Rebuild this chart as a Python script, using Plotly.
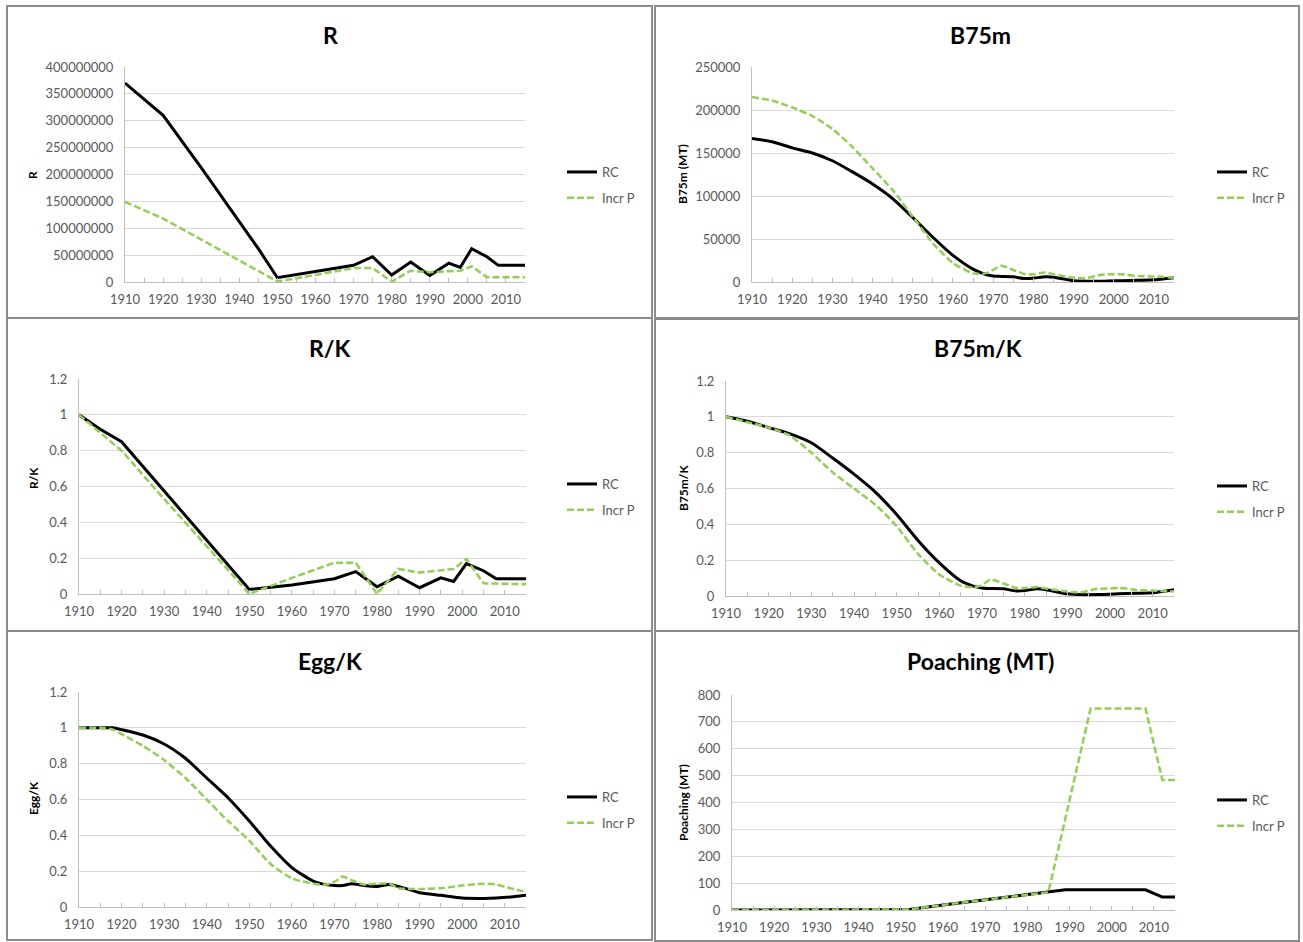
import plotly.graph_objects as go

W, H = 1303, 942


def px(x):
    return x / W


def py(y):
    return 1 - y / H


BLACK = "#000000"
GREEN = "#92D050"
GREY_TXT = "#595959"
FONT = "Lato"

# ---------------- data ----------------
# R
r_years = [1910, 1915, 1920, 1930, 1940, 1945, 1950, 1960, 1970, 1975, 1980, 1985,
           1990, 1995, 1998, 2001, 2005, 2008, 2015]
r_rc = [370e6, 340e6, 310e6, 213e6, 112e6, 62e6, 8e6, 19e6, 31e6, 47e6, 13e6, 37e6,
        12e6, 35e6, 27e6, 62e6, 47e6, 31e6, 31e6]
r_incr = [149e6, 133e6, 118e6, 79e6, 40e6, 20e6, 1e6, 13e6, 26e6, 26e6, 0.5e6, 21e6,
          18e6, 20e6, 21e6, 29e6, 9e6, 9e6, 9e6]

# R/K
rk_rc = [1.0, 0.92, 0.85, 0.575, 0.30, 0.165, 0.025, 0.05, 0.085, 0.125, 0.04, 0.10,
         0.035, 0.09, 0.07, 0.17, 0.13, 0.085, 0.085]
rk_incr = [1.0, 0.90, 0.80, 0.53, 0.27, 0.135, 0.0, 0.09, 0.175, 0.175, 0.0, 0.14,
           0.12, 0.135, 0.14, 0.195, 0.06, 0.058, 0.055]

# B75m and B75m/K
b_years = [1910, 1915, 1920, 1925, 1930, 1935, 1940, 1945, 1950, 1955, 1960, 1965, 1968,
           1970, 1972, 1975, 1978, 1980, 1983, 1985, 1990, 1993, 1997, 2000, 2002, 2006,
           2010, 2015]
b_rc = [167000, 163000, 156000, 150000, 141000, 128000, 114000, 97000, 75000, 52000,
        31000, 15000, 9000, 7000, 6500, 6000, 4000, 4500, 6000, 5500, 1500, 1000, 1000,
        1500, 1500, 2000, 2500, 5000]
b_incr = [215000, 211000, 203000, 193000, 178000, 157000, 132000, 107000, 76000, 45000,
          22000, 10000, 10000, 14000, 19000, 14000, 9000, 9000, 11000, 9000, 5000, 4500,
          8500, 9000, 9000, 7000, 6500, 5000]
bk_rc = [1.0, 0.975, 0.94, 0.905, 0.855, 0.77, 0.68, 0.58, 0.455, 0.31, 0.185, 0.085,
         0.055, 0.045, 0.042, 0.04, 0.028, 0.03, 0.04, 0.035, 0.012, 0.008, 0.008, 0.01,
         0.012, 0.015, 0.018, 0.035]
bk_incr = [1.0, 0.97, 0.94, 0.895, 0.80, 0.69, 0.60, 0.51, 0.39, 0.235, 0.12, 0.058,
           0.048, 0.06, 0.092, 0.07, 0.045, 0.045, 0.05, 0.042, 0.025, 0.02, 0.04, 0.042,
           0.045, 0.035, 0.03, 0.025]

# Egg/K
e_years = [1910, 1915, 1918, 1920, 1925, 1930, 1935, 1940, 1945, 1950, 1955, 1960, 1965,
           1968, 1970, 1972, 1974, 1977, 1980, 1983, 1985, 1988, 1990, 1995, 2000, 2005,
           2008, 2012, 2015]
e_rc = [1.0, 1.0, 1.0, 0.99, 0.96, 0.91, 0.83, 0.72, 0.61, 0.48, 0.34, 0.22, 0.145,
        0.125, 0.12, 0.12, 0.13, 0.12, 0.115, 0.125, 0.115, 0.095, 0.08, 0.065, 0.05,
        0.048, 0.05, 0.057, 0.065]
e_incr = [1.0, 1.0, 0.99, 0.965, 0.90, 0.82, 0.72, 0.60, 0.48, 0.37, 0.24, 0.16, 0.13,
          0.125, 0.14, 0.17, 0.15, 0.125, 0.13, 0.13, 0.105, 0.10, 0.10, 0.105, 0.12,
          0.13, 0.125, 0.10, 0.085]

# Poaching (MT)
p_rc_years = [1910, 1950, 1952, 1960, 1970, 1980, 1985, 1989, 2008, 2012, 2015]
p_rc = [0, 0, 2, 19, 38, 57, 66, 75, 75, 48, 48]
p_incr_years = [1910, 1950, 1952, 1960, 1970, 1980, 1985, 1995, 2008, 2012, 2015]
p_incr = [0, 0, 2, 19, 38, 57, 66, 750, 750, 484, 484]

panels = [
    dict(title="R", ytitle="R", rcx=r_years, rcy=r_rc, ipx=r_years, ipy=r_incr,
         box=(125, 525, 67, 282), yr=[0, 4e8], dt=5e7, fmt=".0f", shape="linear",
         tpos=(330, 35), ytpos=(33, 175), leg=(562, 185), border=(7, 652, 6, 318)),
    dict(title="B75m", ytitle="B75m (MT)", rcx=b_years, rcy=b_rc, ipx=b_years, ipy=b_incr,
         box=(752, 1174, 67, 282), yr=[0, 250000], dt=50000, fmt=".0f", shape="spline",
         tpos=(980, 35), ytpos=(683, 174), leg=(1212, 185), border=(655, 1299, 6, 318)),
    dict(title="R/K", ytitle="R/K", rcx=r_years, rcy=rk_rc, ipx=r_years, ipy=rk_incr,
         box=(79, 526, 379, 594), yr=[0, 1.2], dt=0.2, fmt="", shape="linear",
         tpos=(330, 348), ytpos=(33, 478), leg=(562, 497), border=(7, 652, 318, 631)),
    dict(title="B75m/K", ytitle="B75m/K", rcx=b_years, rcy=bk_rc, ipx=b_years, ipy=bk_incr,
         box=(726, 1174, 381, 596), yr=[0, 1.2], dt=0.2, fmt="", shape="spline",
         tpos=(978, 348), ytpos=(683, 488), leg=(1212, 499), border=(655, 1299, 319, 631)),
    dict(title="Egg/K", ytitle="Egg/K", rcx=e_years, rcy=e_rc, ipx=e_years, ipy=e_incr,
         box=(79, 526, 692, 907), yr=[0, 1.2], dt=0.2, fmt="", shape="spline",
         tpos=(330, 661), ytpos=(33, 798), leg=(562, 810), border=(7, 652, 631, 940)),
    dict(title="Poaching (MT)", ytitle="Poaching (MT)", rcx=p_rc_years, rcy=p_rc,
         ipx=p_incr_years, ipy=p_incr,
         box=(732, 1175, 695, 910), yr=[0, 800], dt=100, fmt="", shape="linear",
         tpos=(980, 661), ytpos=(683, 803), leg=(1212, 813), border=(655, 1299, 631, 941)),
]

fig = go.Figure()
layout = dict(
    template="none",
    width=W, height=H, margin=dict(l=0, r=0, t=0, b=0, pad=0, autoexpand=False),
    paper_bgcolor="white", plot_bgcolor="white",
    font=dict(family=FONT, size=13, color=GREY_TXT),
    annotations=[], shapes=[], hovermode="closest",
)

for i, p in enumerate(panels):
    n = i + 1
    xa = "x" if n == 1 else f"x{n}"
    ya = "y" if n == 1 else f"y{n}"
    lg = "legend" if n == 1 else f"legend{n}"
    fig.add_trace(go.Scatter(
        x=p["rcx"], y=p["rcy"], mode="lines", name="RC",
        line=dict(color=BLACK, width=3, shape=p["shape"], smoothing=0.6),
        xaxis=xa, yaxis=ya, legend=lg, legendgroup=f"rc{n}", hoverinfo="x+y"))
    fig.add_trace(go.Scatter(
        x=p["ipx"], y=p["ipy"], mode="lines", name="Incr P",
        line=dict(color=GREEN, width=2.5, dash="7px,3px", shape=p["shape"], smoothing=0.6),
        xaxis=xa, yaxis=ya, legend=lg, legendgroup=f"ip{n}", hoverinfo="x+y"))

    l, r, t, b = p["box"]
    layout["xaxis" if n == 1 else f"xaxis{n}"] = dict(
        domain=[px(l), px(r)], anchor=ya, range=[1910, 2015], tick0=1910, dtick=10,
        automargin=False,
        showgrid=False, zeroline=False, showline=True, linecolor="#BFBFBF", linewidth=1,
        ticks="inside", ticklen=4, tickcolor="#BFBFBF", ticklabelstandoff=5,
        tickfont=dict(family=FONT, size=13, color=GREY_TXT),
        minor=dict(tick0=1910, dtick=5, ticks="inside", ticklen=4, tickcolor="#BFBFBF",
                   showgrid=False),
        fixedrange=True,
    )
    yax = dict(
        domain=[py(b), py(t)], anchor=xa, range=p["yr"], tick0=0, dtick=p["dt"],
        automargin=False,
        showgrid=True, gridcolor="#D9D9D9", gridwidth=1, zeroline=False,
        showline=True, linecolor="#BFBFBF", linewidth=1, ticks="",
        ticklabelstandoff=8, tickfont=dict(family=FONT, size=13, color=GREY_TXT),
        fixedrange=True,
    )
    if p["fmt"]:
        yax["tickformat"] = p["fmt"]
    layout["yaxis" if n == 1 else f"yaxis{n}"] = yax

    layout[lg] = dict(
        x=px(p["leg"][0]), y=py(p["leg"][1]), xanchor="left", yanchor="middle",
        xref="paper", yref="paper",
        font=dict(family=FONT, size=13, color=GREY_TXT), bgcolor="rgba(0,0,0,0)",
        borderwidth=0, tracegroupgap=6, traceorder="grouped",
    )

    layout["annotations"].append(dict(
        x=px(p["tpos"][0]), y=py(p["tpos"][1]), xref="paper", yref="paper",
        text=f"<b>{p['title']}</b>", showarrow=False, xanchor="center", yanchor="middle",
        font=dict(family=FONT, size=23, color="#000000")))
    layout["annotations"].append(dict(
        x=px(p["ytpos"][0]), y=py(p["ytpos"][1]), xref="paper", yref="paper",
        text=f"<b>{p['ytitle']}</b>", showarrow=False, textangle=-90,
        xanchor="center", yanchor="middle",
        font=dict(family=FONT, size=12, color="#000000")))

    bl, br, bt, bb = p["border"]
    layout["shapes"].append(dict(
        type="rect", xref="paper", yref="paper", x0=px(bl), x1=px(br), y0=py(bb), y1=py(bt),
        line=dict(color="#8C8C8C", width=2), fillcolor="rgba(0,0,0,0)", layer="below"))

fig.update_layout(**layout)
fig.write_html(
    "out.html",
    config={"displayModeBar": False},
    post_script=(
        "document.body.style.margin='0';"
        "document.body.style.overflow='hidden';"
        "document.documentElement.style.overflow='hidden';"
    ),
)
